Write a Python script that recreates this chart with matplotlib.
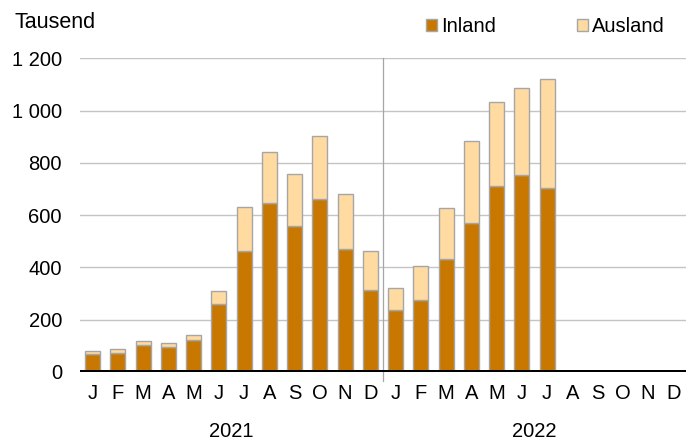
import numpy as np
import matplotlib.pyplot as plt
import matplotlib.transforms as mtransforms
from matplotlib.patches import Patch

months = ['J', 'F', 'M', 'A', 'M', 'J', 'J', 'A', 'S', 'O', 'N', 'D'] * 2
years = ['2021', '2022']

# Tausend (2021 Jan .. 2022 Jul)
total  = [81, 87, 119, 110, 143, 310, 630, 842, 758, 905, 680, 463,
          320, 406, 627, 884, 1033, 1088, 1120]
inland = [68, 72, 103, 95, 122, 260, 465, 648, 560, 662, 472, 314,
          238, 277, 431, 569, 713, 754, 704]
ausland = [t - i for t, i in zip(total, inland)]

c_in = '#C87800'
c_aus = '#FFDBA2'
c_edge = '#A6A6A6'

plt.rcParams['font.family'] = ['Liberation Sans', 'DejaVu Sans']
plt.rcParams['font.size'] = 14.5

fig = plt.figure(figsize=(6.88, 4.43), dpi=100)
ax = fig.add_axes([0.1163, 0.1603, 0.8807, 0.7077])

x = np.arange(len(inland))
ax.bar(x, inland, width=0.6, color=c_in, edgecolor=c_edge, linewidth=1, zorder=2)
ax.bar(x, ausland, width=0.6, bottom=inland, color=c_aus, edgecolor=c_edge,
       linewidth=1, zorder=2)

ax.set_xlim(-0.5, 23.5)
ax.set_ylim(0, 1200)
ax.set_yticks(range(0, 1201, 200))
ax.set_yticklabels(['{:,}'.format(v).replace(',', ' ') for v in range(0, 1201, 200)])
ax.yaxis.grid(True, color='#C4C4C4', linewidth=1, zorder=0)
ax.set_axisbelow(True)
ax.tick_params(axis='y', length=0, pad=13)
ax.set_xticks(range(24))
ax.set_xticklabels(months)
ax.tick_params(axis='x', length=0, pad=9)
for s in ax.spines.values():
    s.set_visible(False)

ax.axhline(0, color='black', linewidth=3.6, zorder=3)

trans = mtransforms.blended_transform_factory(ax.transData, ax.transAxes)
ax.plot([11.5, 11.5], [-0.03, 1], color='#A6A6A6', linewidth=0.9,
        transform=trans, clip_on=False, zorder=1)
for k, yr in enumerate(years):
    ax.text(5.5 + 12 * k, -0.19, yr, transform=trans, ha='center', va='center')

fig.text(14 / 688, 1 - 22 / 443, 'Tausend', ha='left', va='center', fontsize=15.5)

handles = [Patch(facecolor=c_in, edgecolor=c_edge), Patch(facecolor=c_aus, edgecolor=c_edge)]
fig.legend(handles, ['Inland', 'Ausland'], loc='center left', ncol=2,
           bbox_to_anchor=(426 / 688, 1 - 27 / 443), frameon=False,
           handlelength=0.55, handleheight=0.55, handletextpad=0.2,
           columnspacing=4.0, borderaxespad=0, borderpad=0)

plt.savefig('out.png', dpi=100)
